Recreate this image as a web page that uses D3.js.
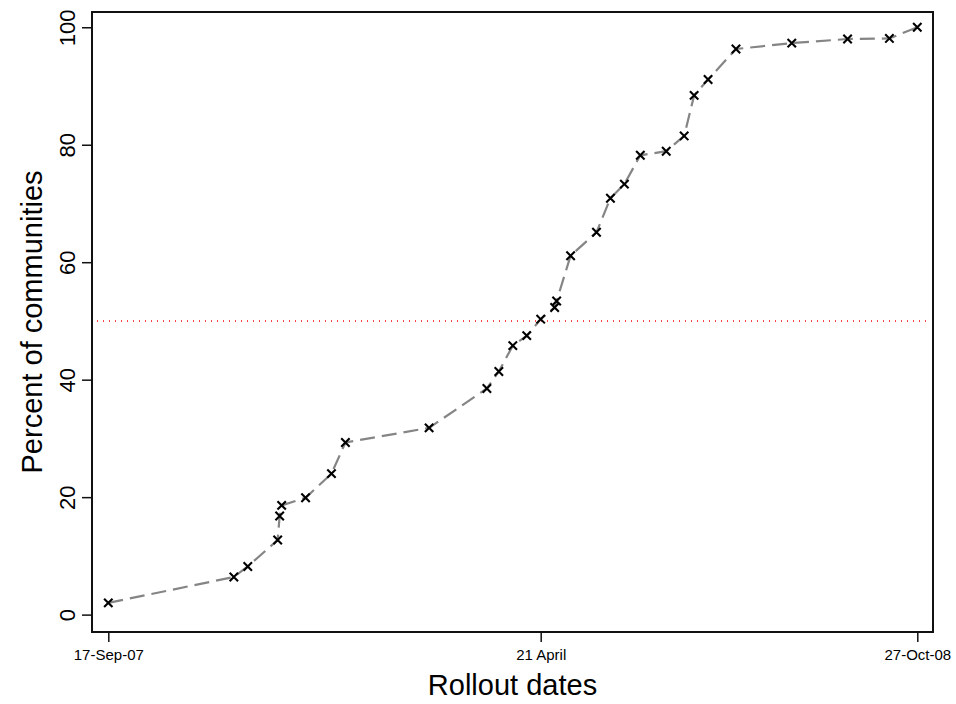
<!DOCTYPE html>
<html>
<head>
<meta charset="utf-8">
<script src="https://cdn.jsdelivr.net/npm/d3@7"></script>
<style>
  html, body { margin: 0; padding: 0; background: #fff; }
  svg { display: block; font-family: Arial, "Liberation Sans", Helvetica, sans-serif; }
</style>
</head>
<body>
<svg id="chart" width="956" height="704"></svg>
<script>
// ---- data ----
const rolloutDates = [
  "2007-09-17","2007-11-19","2007-11-26","2007-12-11","2007-12-12","2007-12-13",
  "2007-12-25","2008-01-07","2008-01-14","2008-02-25","2008-03-25","2008-03-31",
  "2008-04-07","2008-04-14","2008-04-21","2008-04-28","2008-04-29","2008-05-06",
  "2008-05-19","2008-05-26","2008-06-02","2008-06-10","2008-06-23","2008-07-02",
  "2008-07-07","2008-07-14","2008-07-28","2008-08-25","2008-09-22","2008-10-13",
  "2008-10-27"
];
const percentCommunities = [
  2.0, 6.4, 8.2, 12.7, 16.8, 18.6,
  19.9, 24.0, 29.3, 31.8, 38.5, 41.4,
  45.8, 47.5, 50.3, 52.3, 53.4, 61.1,
  65.1, 70.9, 73.3, 78.2, 78.9, 81.5,
  88.4, 91.1, 96.3, 97.3, 98.0, 98.1,
  100.0
];
const xTickDates = ["2007-09-17", "2008-04-21", "2008-10-27"];
const xTickLabels = ["17-Sep-07", "21 April", "27-Oct-08"];
const yTicks = [0, 20, 40, 60, 80, 100];
const referenceLevel = 50;
const xTitle = "Rollout dates";
const yTitle = "Percent of communities";

// ---- layout ----
const W = 956, H = 704;
const margin = { left: 92, top: 12, right: 23, bottom: 72 };
const iw = W - margin.left - margin.right;   // 841
const ih = H - margin.top - margin.bottom;   // 620

const parse = d3.utcParse("%Y-%m-%d");
const data = rolloutDates.map((d, i) => ({ date: parse(d), value: percentCommunities[i] }));
const tickDates = xTickDates.map(parse);

const x = d3.scaleUtc()
  .domain([tickDates[0], tickDates[2]])
  .range([16.3, 825.3]);
const y = d3.scaleLinear()
  .domain([-2.96, 102.6])
  .range([ih, 0]);

const svg = d3.select("#chart");
svg.append("rect").attr("width", W).attr("height", H).attr("fill", "#fff");
const g = svg.append("g").attr("transform", `translate(${margin.left},${margin.top})`);

// reference line
g.append("line")
  .attr("x1", 5).attr("x2", iw - 2)
  .attr("y1", y(referenceLevel)).attr("y2", y(referenceLevel))
  .attr("stroke", "#ff4545")
  .attr("stroke-width", 2)
  .attr("stroke-dasharray", "1,5");

// connecting dashed line
const line = d3.line().x(d => x(d.date)).y(d => y(d.value));
g.append("path")
  .datum(data)
  .attr("d", line)
  .attr("fill", "none")
  .attr("stroke", "#858585")
  .attr("stroke-width", 2.2)
  .attr("stroke-dasharray", "15,7");

// x markers
const r = 4.2;
g.append("g").selectAll("path")
  .data(data)
  .join("path")
  .attr("d", d => {
    const cx = x(d.date), cy = y(d.value);
    return `M${cx - r},${cy - r}L${cx + r},${cy + r}M${cx - r},${cy + r}L${cx + r},${cy - r}`;
  })
  .attr("stroke", "#000")
  .attr("stroke-width", 2.1)
  .attr("fill", "none");

// frame
g.append("rect")
  .attr("x", 0).attr("y", 0).attr("width", iw).attr("height", ih)
  .attr("fill", "none").attr("stroke", "#111").attr("stroke-width", 2);

// x axis
const xAxis = g.append("g")
  .attr("transform", `translate(0,${ih})`)
  .call(d3.axisBottom(x).tickValues(tickDates)
    .tickFormat((d, i) => xTickLabels[i]).tickSize(10).tickPadding(0));
xAxis.select(".domain").remove();
xAxis.selectAll(".tick line").attr("stroke", "#111").attr("stroke-width", 1.5);
xAxis.selectAll(".tick text")
  .attr("y", 28).attr("dy", 0)
  .attr("font-size", 15).attr("fill", "#000")
  .attr("font-family", "Arial, 'Liberation Sans', sans-serif");

// y axis
const yAxis = g.append("g")
  .call(d3.axisLeft(y).tickValues(yTicks).tickSize(10).tickFormat(d3.format("d")));
yAxis.select(".domain").remove();
yAxis.selectAll(".tick line").attr("stroke", "#111").attr("stroke-width", 1.5);
yAxis.selectAll(".tick text")
  .attr("transform", "rotate(-90)")
  .attr("x", 0).attr("y", -17).attr("dy", 0)
  .attr("text-anchor", "middle")
  .attr("font-size", 22).attr("fill", "#000")
  .attr("font-family", "Arial, 'Liberation Sans', sans-serif");

// titles
svg.append("text")
  .attr("x", margin.left + iw / 2).attr("y", 695)
  .attr("text-anchor", "middle")
  .attr("font-size", 29).attr("fill", "#000")
  .text(xTitle);
svg.append("text")
  .attr("transform", `translate(42,${margin.top + ih / 2}) rotate(-90)`)
  .attr("text-anchor", "middle")
  .attr("font-size", 29).attr("fill", "#000")
  .text(yTitle);
</script>
</body>
</html>
